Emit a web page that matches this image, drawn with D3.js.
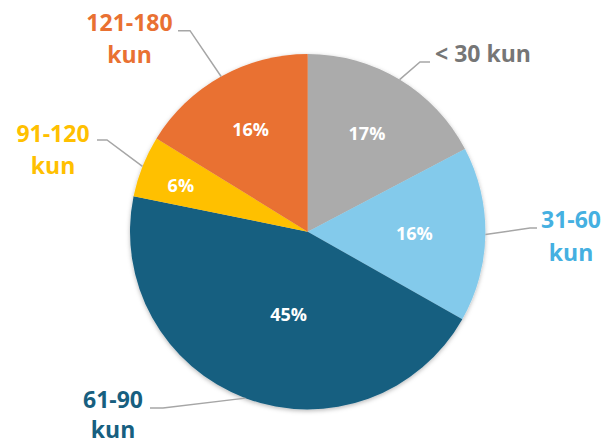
<!DOCTYPE html>
<html><head><meta charset="utf-8">
<script src="https://cdn.jsdelivr.net/npm/d3@7/dist/d3.min.js"></script>
<style>html,body{margin:0;padding:0;background:#fff;}svg{display:block;}</style>
</head><body>
<svg id="chart" width="615" height="445"></svg>
<script>
// Data
const categories = ["< 30 kun", "31-60 kun", "61-90 kun", "91-120 kun", "121-180 kun"];
const shares = [17.3, 15.9, 45.0, 5.6, 16.2];
const sliceColors = ["#ABABAB", "#83CAEB", "#175F80", "#FFC000", "#E97132"];
const textColors = ["#767676", "#45B0E1", "#175F80", "#FFC000", "#E97132"];

// Layout (not data)
const cx = 307.7, cy = 231.7, R = 177.7;
const pctRadius = [0.645, 0.60, 0.476, 0.76, 0.66];
const pctAngleShift = [0, 0, -7.5, -1.5, 0];
const outer = [
  {elbow:[420,62], end:[430,62], anchor:"start", tx:435, ty:62, lh:0, lines:["< 30 kun"]},
  {elbow:[530,228], end:[537,228], anchor:"middle", tx:571, ty:228, lh:32.5, lines:["31-60","kun"]},
  {elbow:[163,408], end:[150,408], anchor:"middle", tx:113, ty:407.5, lh:30, lines:["61-90","kun"]},
  {elbow:[107,140], end:[97,140], anchor:"middle", tx:53, ty:141.5, lh:32, lines:["91-120","kun"]},
  {elbow:[190,30.7], end:[178,30.7], anchor:"middle", tx:129.5, ty:30.7, lh:32.5, lines:["121-180","kun"]}
];

const svg = d3.select("#chart");
const defs = svg.append("defs");
const f = defs.append("filter").attr("id","sh").attr("x","-10%").attr("y","-10%").attr("width","120%").attr("height","120%");
f.append("feDropShadow").attr("dx",0).attr("dy",1.5).attr("stdDeviation",2).attr("flood-color","#000").attr("flood-opacity",0.28);

const pie = d3.pie().sort(null).value(d => d)(shares);
const arc = d3.arc().innerRadius(0).outerRadius(R);
const g = svg.append("g").attr("transform",`translate(${cx},${cy})`);

g.append("g").attr("filter","url(#sh)")
 .selectAll("path").data(pie).join("path")
 .attr("d", arc)
 .attr("fill", (d,i) => sliceColors[i]);

const total = d3.sum(shares);
const font = "'Open Sans', sans-serif";

g.selectAll("text.pct").data(pie).join("text")
 .attr("class","pct")
 .attr("transform", (d,i) => {
   const a = (d.startAngle + d.endAngle)/2 + pctAngleShift[i]*Math.PI/180;
   const r = R*pctRadius[i];
   return `translate(${r*Math.sin(a)},${-r*Math.cos(a)})`;
 })
 .attr("text-anchor","middle").attr("dy","0.36em")
 .attr("fill","#fff").attr("font-family",font).attr("font-weight",700).attr("font-size","18px")
 .text(d => Math.round(d.value/total*100) + "%");

svg.append("g").selectAll("polyline").data(pie).join("polyline")
 .attr("points", (d,i) => {
   const a = (d.startAngle + d.endAngle)/2;
   const p0 = [cx + R*Math.sin(a), cy - R*Math.cos(a)];
   return [p0, outer[i].elbow, outer[i].end].map(p => p.join(",")).join(" ");
 })
 .attr("fill","none").attr("stroke","#A6A6A6").attr("stroke-width",1.5);

const lab = svg.append("g").selectAll("text").data(categories).join("text")
 .attr("text-anchor",(d,i) => outer[i].anchor)
 .attr("fill",(d,i) => textColors[i])
 .attr("font-family",font).attr("font-weight",700).attr("font-size","23px");
lab.each(function(d,i){
  const t = d3.select(this);
  outer[i].lines.forEach((ln,j) => {
    t.append("tspan").attr("x", outer[i].tx).attr("y", outer[i].ty + j*outer[i].lh).text(ln);
  });
});
</script>
</body></html>
